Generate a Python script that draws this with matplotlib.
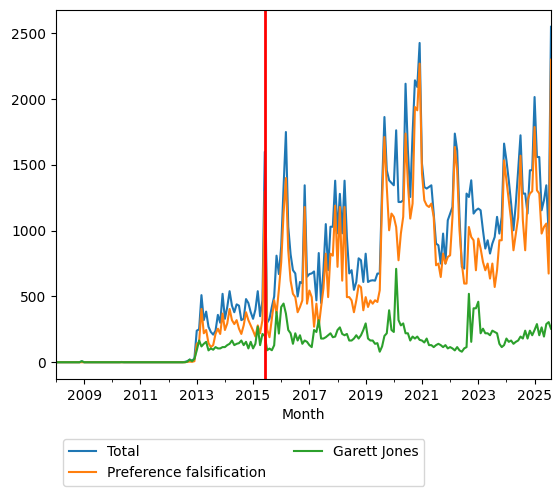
import matplotlib
matplotlib.use("Agg")
import matplotlib.pyplot as plt
import pandas as pd

# monthly counts, 2008-01 .. 2025-08
start_month = "2008-01"

total = [
    0, 0, 0, 0, 0, 0, 0, 0, 0, 0, 0, 6,
    0, 0, 0, 0, 0, 0, 0, 0, 0, 0, 0, 0,
    0, 0, 0, 0, 2, 0, 0, 0, 0, 0, 0, 0,
    0, 0, 0, 0, 0, 0, 0, 0, 0, 0, 0, 0,
    0, 0, 0, 0, 0, 0, 0, 3, 8, 20, 12, 28,
    240, 250, 510, 320, 385, 270, 230, 210, 240, 360, 300, 520,
    330, 420, 540, 430, 380, 440, 430, 320, 330, 480, 450, 380,
    330, 400, 540, 350, 470, 1600, 300, 330, 420, 500, 810, 670,
    880, 1330, 1750, 1030, 820, 700, 675, 500, 610, 600, 1345, 650,
    670, 675, 690, 470, 830, 450, 700, 1050, 700, 1030, 1030, 1380,
    980, 1280, 980, 1380, 950, 675, 700, 550, 610, 790, 775, 610,
    825, 610, 620, 623, 620, 674, 674, 1332, 1864, 1459, 1383, 1363,
    1345, 1763, 1218, 1218, 1231, 2117, 1611, 1256, 1738, 2143, 2092, 2427,
    1510, 1332, 1320, 1332, 1345, 1130, 902, 889, 750, 978, 750, 1079,
    1130, 1180, 1738, 1611, 1105, 724, 712, 1282, 1256, 1383, 1130, 1155,
    1168, 1155, 1003, 864, 927, 826, 902, 952, 1105, 978, 1105, 1662,
    1535, 1383, 1206, 1003, 1206, 1459, 1725, 1282, 1282, 1130, 1459, 1460,
    2016, 1560, 1560, 1155, 1231, 1345, 978, 2550,
]

pref_falsification = [
    0, 0, 0, 0, 0, 0, 0, 0, 0, 0, 0, 0,
    0, 0, 0, 0, 0, 0, 0, 0, 0, 0, 0, 0,
    0, 0, 0, 0, 0, 0, 0, 0, 0, 0, 0, 0,
    0, 0, 0, 0, 0, 0, 0, 0, 0, 0, 0, 0,
    0, 0, 0, 0, 0, 0, 0, 0, 3, 5, 3, 8,
    140, 150, 405, 220, 245, 145, 115, 130, 215, 255, 215, 370,
    245, 295, 405, 320, 290, 320, 255, 215, 280, 380, 320, 280,
    240, 195, 280, 220, 320, 1300, 250, 190, 330, 470, 370, 550,
    760, 1130, 1400, 850, 620, 520, 495, 380, 420, 470, 1180, 445,
    545, 495, 270, 445, 270, 420, 560, 825, 495, 825, 810, 1190,
    725, 1180, 620, 1180, 495, 495, 470, 380, 470, 585, 570, 395,
    495, 420, 470, 445, 471, 458, 547, 1231, 1712, 1332, 1003, 1130,
    1105, 1028, 775, 978, 1105, 1738, 1358, 1092, 1206, 1940, 1915, 2270,
    1434, 1231, 1193, 1180, 1206, 1105, 737, 750, 648, 826, 750, 800,
    813, 1105, 1636, 1459, 1003, 750, 598, 598, 1028, 952, 927, 699,
    940, 864, 762, 699, 750, 636, 750, 572, 699, 927, 927, 1535,
    1383, 1231, 1079, 851, 978, 1100, 1570, 1079, 851, 1231, 1282, 1300,
    1788, 1307, 1282, 978, 1028, 1054, 674, 2300,
]

garett_jones = [
    0, 0, 0, 0, 0, 0, 0, 0, 0, 0, 0, 8,
    0, 0, 0, 0, 0, 0, 0, 0, 0, 0, 0, 0,
    0, 0, 0, 0, 0, 0, 0, 0, 0, 0, 0, 0,
    0, 0, 0, 0, 0, 0, 0, 0, 0, 0, 0, 0,
    0, 0, 0, 0, 0, 0, 0, 0, 5, 20, 8, 25,
    90, 165, 120, 140, 155, 90, 105, 95, 115, 105, 105, 115,
    115, 130, 140, 165, 130, 140, 145, 165, 130, 155, 105, 155,
    105, 140, 270, 130, 215, 200, 91, 104, 91, 129, 382, 218,
    420, 446, 370, 245, 220, 140, 220, 165, 205, 140, 165, 155,
    130, 115, 245, 230, 320, 180, 180, 190, 205, 220, 190, 195,
    245, 265, 215, 205, 215, 165, 165, 180, 205, 180, 205, 245,
    295, 180, 165, 165, 140, 145, 80, 120, 200, 220, 395, 245,
    230, 710, 320, 280, 295, 220, 220, 165, 195, 180, 195, 170,
    165, 150, 180, 130, 130, 115, 130, 140, 130, 115, 130, 105,
    115, 105, 90, 115, 90, 80, 105, 115, 520, 155, 410, 410,
    460, 220, 255, 220, 220, 205, 240, 230, 220, 140, 115, 130,
    180, 155, 165, 140, 155, 165, 195, 180, 240, 180, 240, 205,
    245, 290, 205, 265, 195, 290, 305, 255,
]

event_month = "2015-06"

months = pd.date_range(start_month, periods=len(total), freq="MS", name="Month")
df = pd.DataFrame({
    "Total": total,
    "Preference falsification": pref_falsification,
    "Garett Jones": garett_jones,
}, index=months)

fig = plt.figure(figsize=(5.6, 4.94), dpi=100)
ax = fig.add_axes([56 / 560, 1 - 379 / 494, 495 / 560, 369 / 494])
df.plot(ax=ax, legend=False)

ax.axvline(pd.Period(event_month, freq="M").ordinal, color="red", linewidth=2)

ax.legend(loc="upper left", bbox_to_anchor=(0, -0.145), ncol=2)

fig.savefig("out.png", dpi=100)
